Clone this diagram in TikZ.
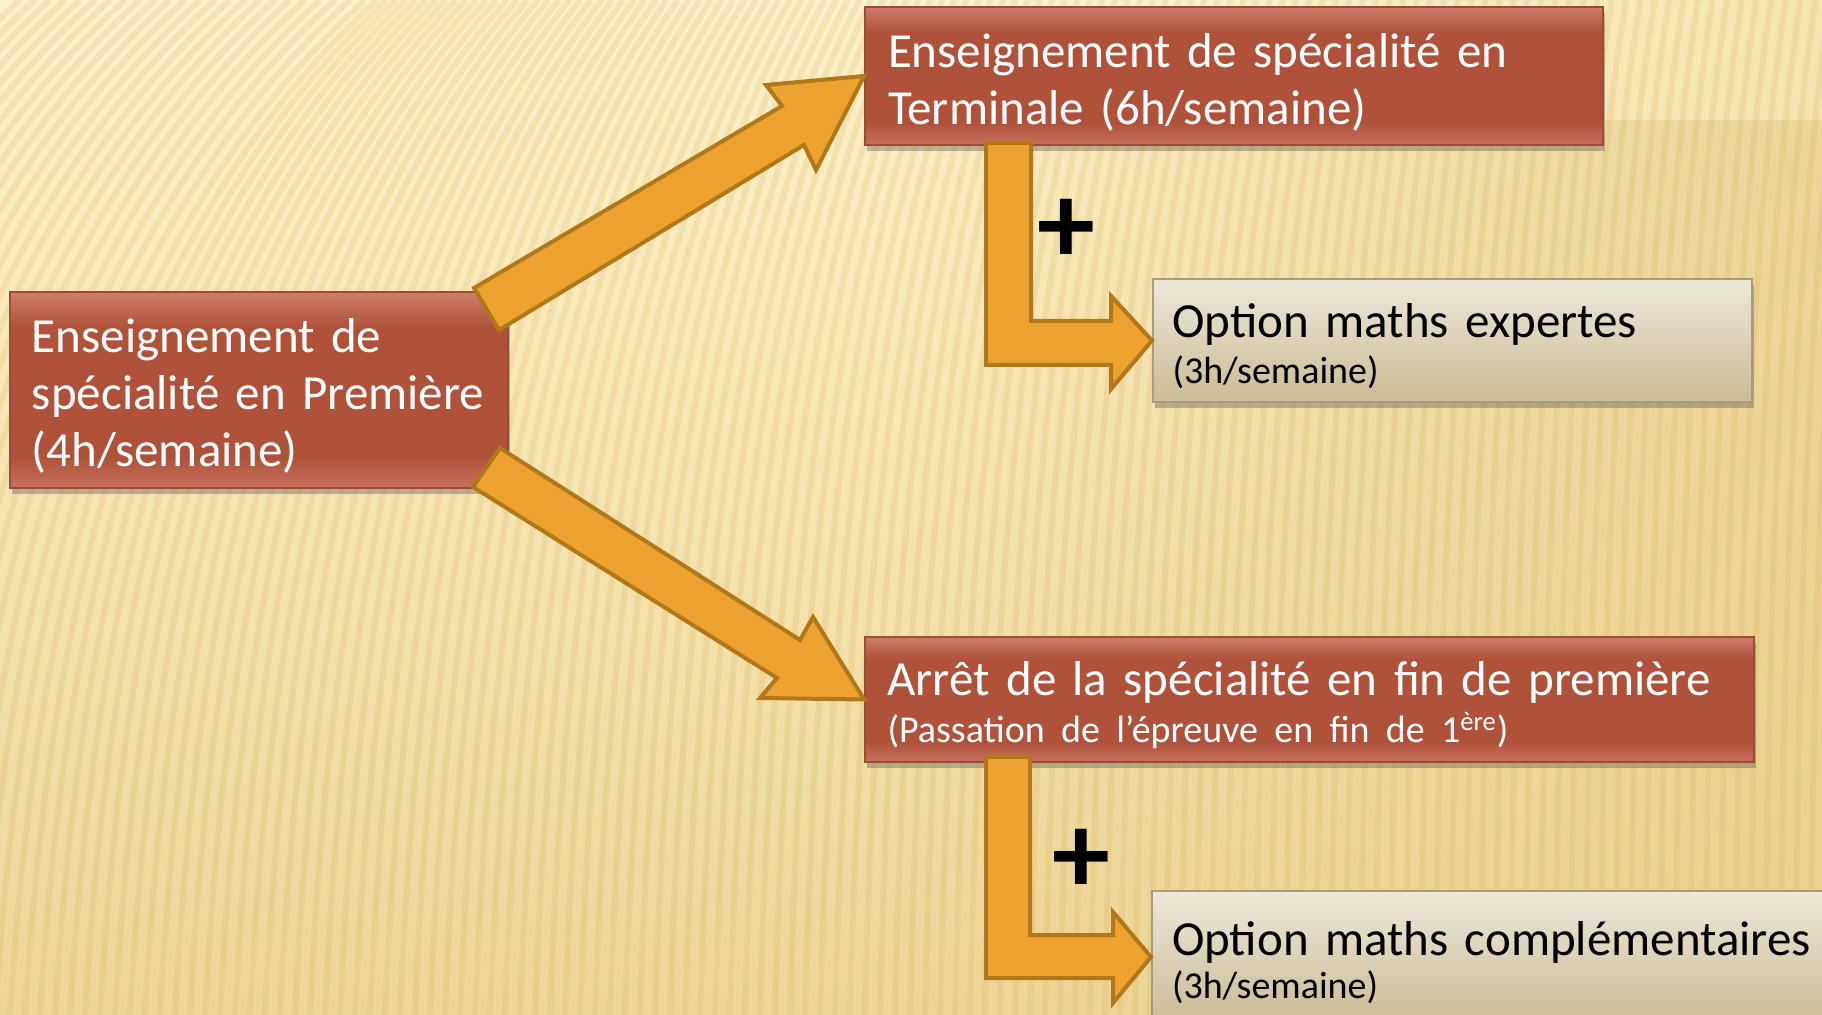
\documentclass[tikz,border=0pt]{standalone}
\usepackage{fontspec}
\setmainfont{Carlito}
\usetikzlibrary{shadows,fadings}
\definecolor{bgtop}{HTML}{FDF2CB}
\definecolor{bgbot}{HTML}{EED697}
\definecolor{bgright}{HTML}{E9CF8C}
\definecolor{stripecol}{HTML}{D6AE55}
\definecolor{redT}{HTML}{CE7D6A}
\definecolor{redM}{HTML}{AF5239}
\definecolor{redB}{HTML}{C9715D}
\definecolor{redE}{HTML}{9E4A35}
\definecolor{begT}{HTML}{EEE8DB}
\definecolor{begB}{HTML}{C9BB93}
\definecolor{begE}{HTML}{A79C80}
\definecolor{arrF}{HTML}{EDA22F}
\definecolor{arrE}{HTML}{B07818}
\pgfdeclareverticalshading{redsh}{100bp}{color(0bp)=(redB); color(25bp)=(redB); color(33bp)=(redM); color(66bp)=(redM); color(75bp)=(redT); color(100bp)=(redT)}
\tikzfading[name=fadetoright, left color=transparent!100, right color=transparent!20]
\tikzset{
  redbox/.style={draw=redE, line width=0.8pt, shading=redsh, text=white,
    align=left, inner xsep=11pt, inner ysep=0pt,
    font=\fontsize{24.5}{28.5}\selectfont,
    drop shadow={shadow xshift=1pt, shadow yshift=-3pt, opacity=0.35, fill=black!70}},
  begbox/.style={draw=begE, line width=1pt, top color=begT, bottom color=begB, text=black,
    align=left, inner xsep=9.5pt, inner ysep=0pt,
    font=\fontsize{24.5}{28.5}\selectfont,
    drop shadow={shadow xshift=1pt, shadow yshift=-3pt, opacity=0.35, fill=black!70}},
  blockarrow/.style={fill=arrF, draw=arrE, line width=2pt, line join=miter},
  stripe/.style={draw=stripecol, line width=3pt, opacity=0.2},
  plussign/.style={font=\fontsize{58}{60}\bfseries\selectfont, text=black, inner sep=0pt},
}
\newcommand{\smalltxt}{\fontsize{19}{23}\selectfont}
\newcommand{\topstrut}{\rule{0pt}{23pt}}
\begin{document}
\begin{tikzpicture}[x=0.5pt, y=-0.5pt]
\useasboundingbox (0,0) rectangle (1822,1015);
% background
\fill[top color=bgtop, bottom color=bgbot] (0,0) rectangle (1822,1015);
\fill[bgright, path fading=fadetoright] (900,120) rectangle (1822,1015);
\fill[bgright!80!bgtop, path fading=fadetoright, opacity=0.6] (1200,0) rectangle (1822,120);
\foreach \i in {0,...,150} {
  \pgfmathsetmacro\xx{-350+\i*15}
  \pgfmathsetmacro\lean{50+320*(1-min(max(\xx,0),1822)/1822)^2}
  \draw[stripe] (\xx,1015) .. controls (\xx+0.08*\lean,550) and (\xx+0.35*\lean,220) .. (\xx+\lean,0);
}
% boxes
\node[redbox, minimum width=249pt, minimum height=98pt, text width=227pt] (prem) at (259,390)
  {\topstrut Enseignement de\\spécialité en Première\\(4h/semaine)};
\node[redbox, minimum width=369pt, minimum height=69pt, text width=346pt] (term) at (1234,76)
  {\topstrut Enseignement de spécialité en\\Terminale (6h/semaine)};
\node[begbox, minimum width=299.5pt, minimum height=61.5pt, text width=280pt] (expert) at (1452.5,340.5)
  {\topstrut Option maths expertes\\[-5.5pt]{\smalltxt(3h/semaine)}};
\node[redbox, minimum width=444.5pt, minimum height=62.5pt, text width=422pt] (arret) at (1309.5,699.5)
  {\topstrut Arrêt de la spécialité en fin de première\\[-5pt]{\smalltxt(Passation de l’épreuve en fin de 1\textsuperscript{ère})}};
\node[begbox, minimum width=344pt, minimum height=66pt, text width=324pt] (compl) at (1496,957)
  {\topstrut Option maths complémentaires\\[-7pt]{\smalltxt(3h/semaine)}};
% arrows
\draw[blockarrow] (474,288) -- (782,106) -- (766,85) -- (term.west) -- (816,170) -- (804,145) -- (499,330) -- cycle;
\draw[blockarrow] (500,448) -- (800,640) -- (813,617) -- (arret.west) -- (760,698) -- (777,678) -- (473,487) -- cycle;
\draw[blockarrow] (986,143) -- (1031,143) -- (1031,321) -- (1111,321) -- (1111,296) -- (expert.west) -- (1111,389) -- (1111,365) -- (986,365) -- cycle;
\draw[blockarrow] (986,757) -- (1030,757) -- (1030,935) -- (1113,935) -- (1113,912) -- (compl.west) -- (1113,1003) -- (1113,978) -- (986,978) -- cycle;
% plus signs
\node[plussign] (plus1) at (1066,231) {+};
\node[plussign] (plus2) at (1081,861) {+};
\end{tikzpicture}
\end{document}
